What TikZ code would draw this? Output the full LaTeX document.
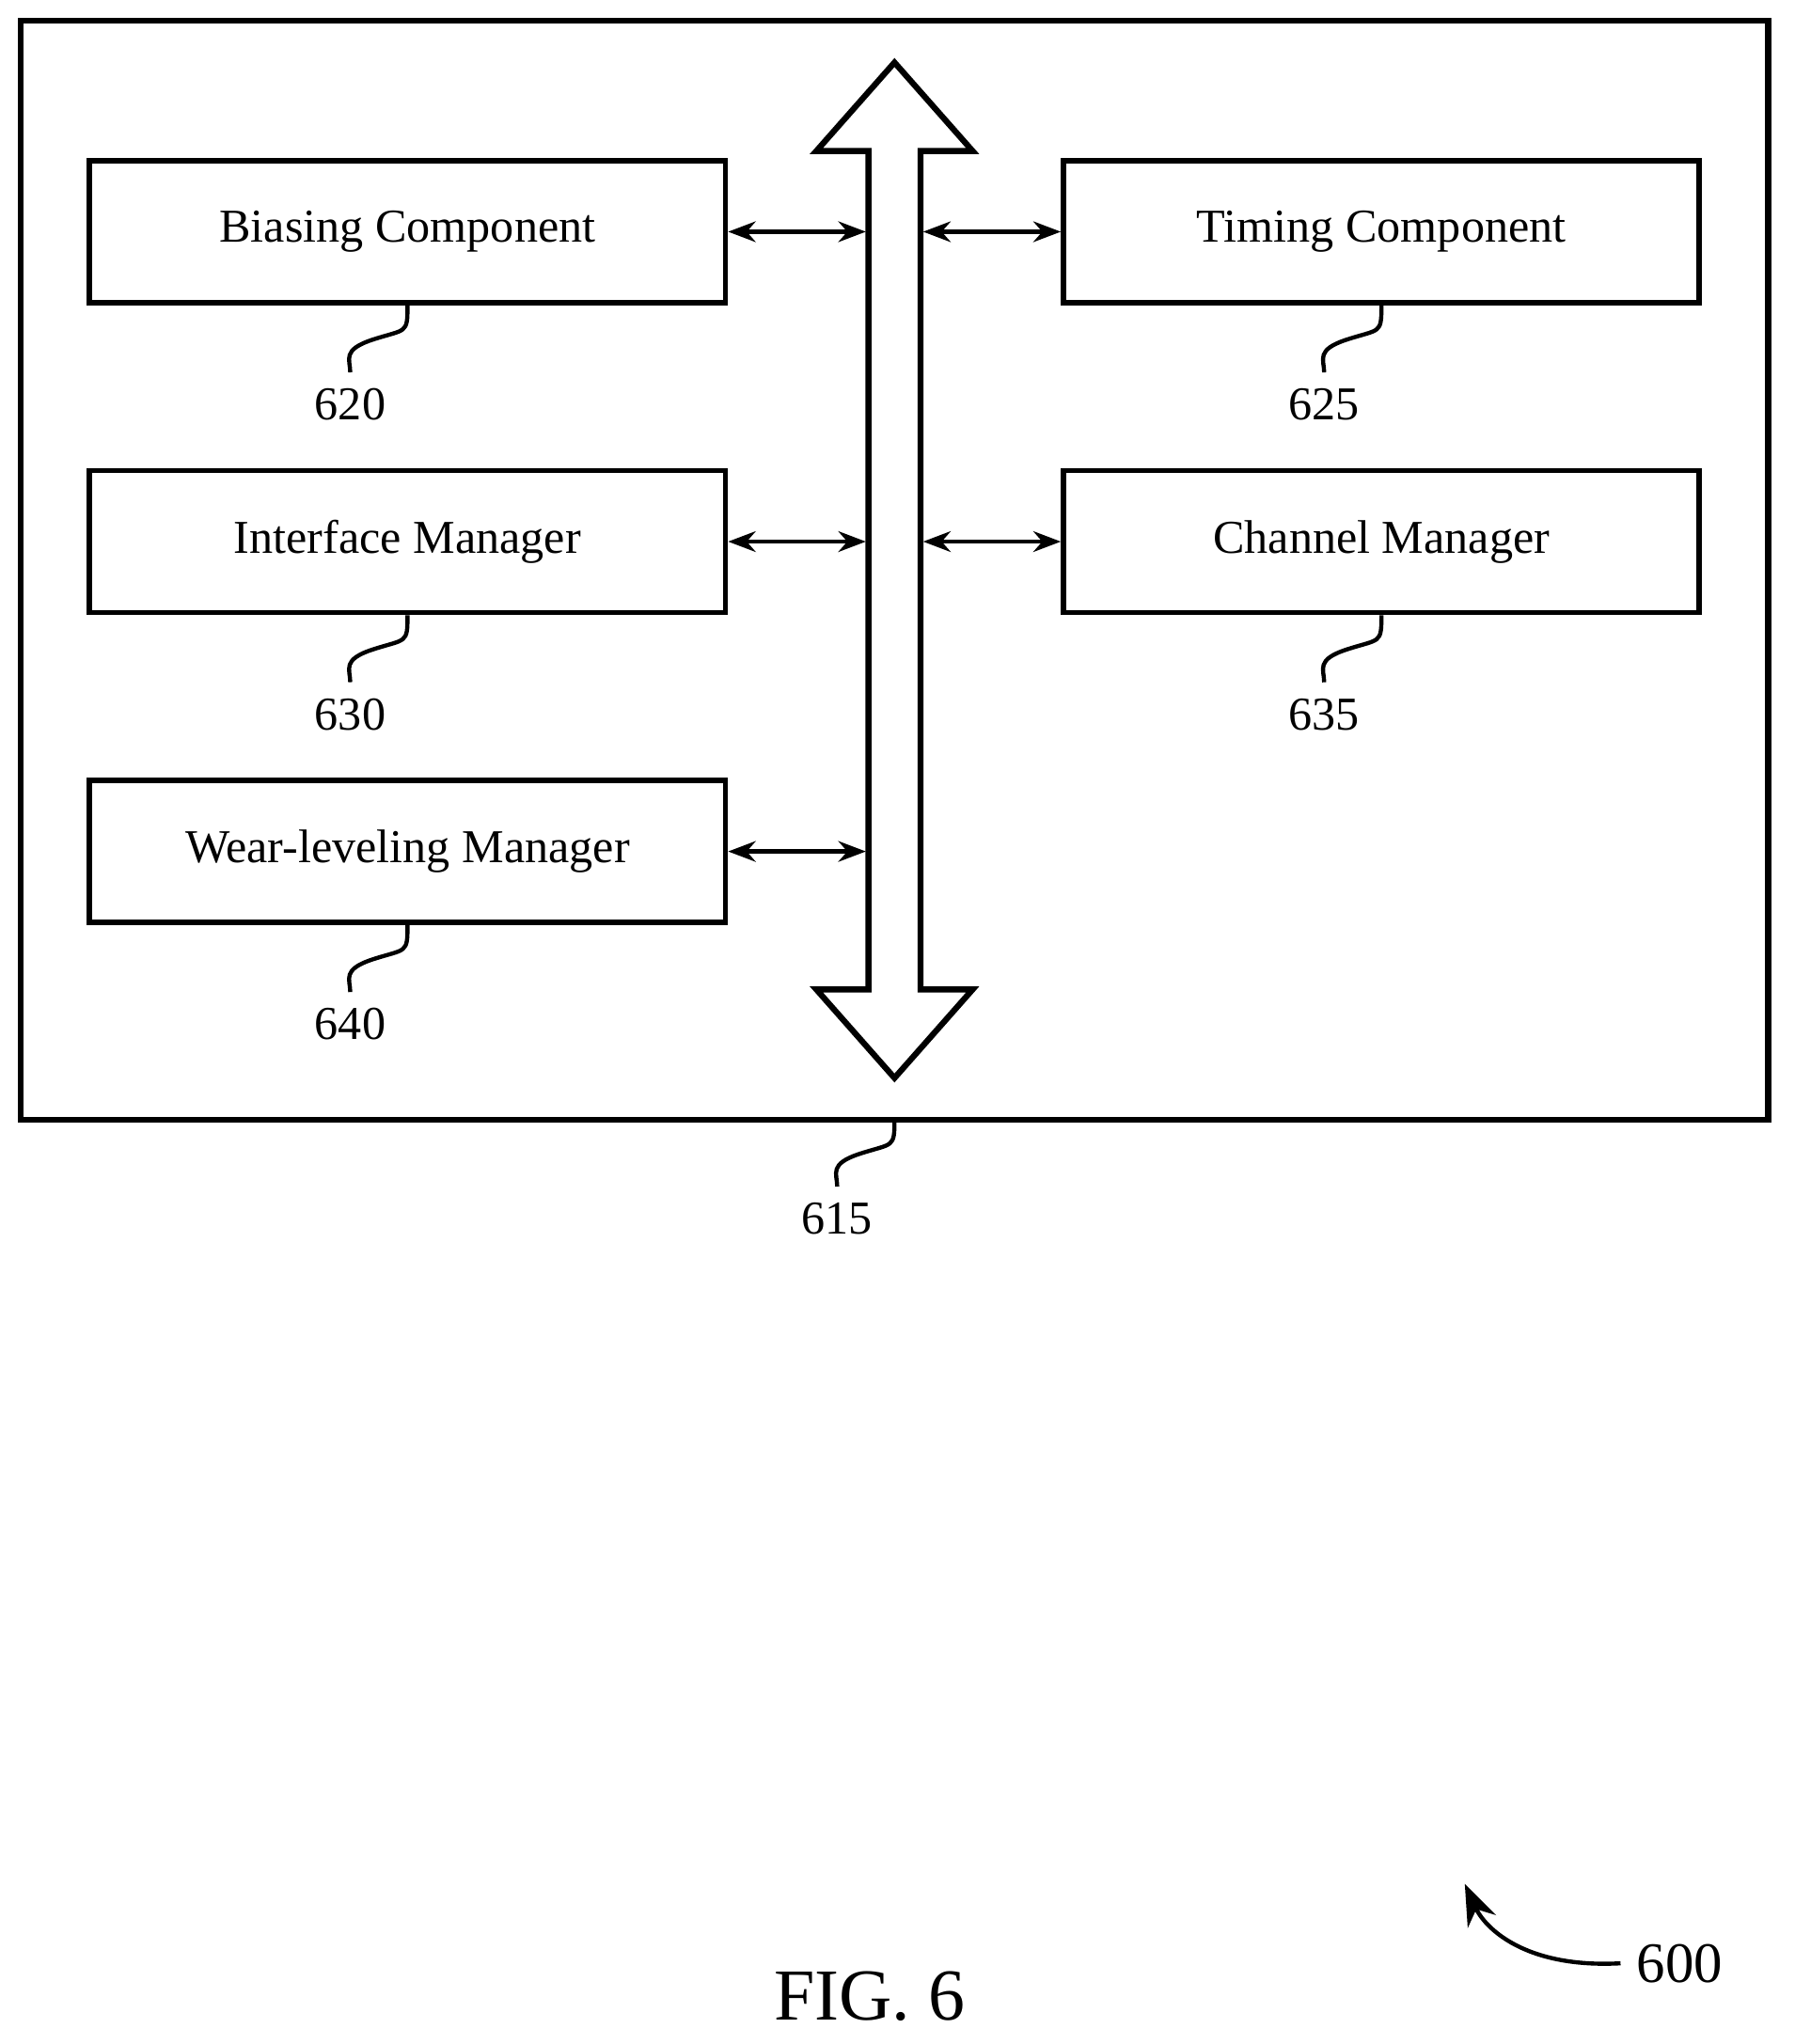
\documentclass[tikz,border=0pt]{standalone}
\usepackage{fontspec}
\setmainfont{Liberation Serif}
\usetikzlibrary{positioning, calc, arrows.meta}

\begin{document}
\begin{tikzpicture}[x=0.01cm, y=-0.01cm, font=\fontsize{10.3}{12}\selectfont,
  comp/.style={rectangle, draw, line width=1.2pt, minimum width=4.88cm, minimum height=1.09cm},
  link/.style={{Stealth[length=6pt]}-{Stealth[length=6pt]}, line width=0.9pt},
  lead/.style={line width=0.9pt}]
\useasboundingbox (0,0) rectangle (1378,1570);
\draw[line width=1.3pt] (16,16) rectangle (1358,860);

% bus
\draw[line width=1.3pt, fill=white] (687,48) -- (747,116) -- (707,116) -- (707,760) -- (747,760)
  -- (687,828) -- (627,760) -- (667,760) -- (667,116) -- (627,116) -- cycle;
\coordinate (busL1) at (665,178); \coordinate (busR1) at (709,178);
\coordinate (busL2) at (665,416); \coordinate (busR2) at (709,416);
\coordinate (busL3) at (665,654);

\node[comp] (bias) at (313,178) {Biasing Component};
\node[comp] (iface) at (313,416) {Interface Manager};
\node[comp] (wear) at (313,654) {Wear-leveling Manager};
\node[comp] (timing) at (1061,178) {Timing Component};
\node[comp] (chan) at (1061,416) {Channel Manager};

\draw[link] (bias) -- (busL1);
\draw[link] (iface) -- (busL2);
\draw[link] (wear) -- (busL3);
\draw[link] (busR1) -- (timing);
\draw[link] (busR2) -- (chan);

% reference labels
\foreach \blk/\num in {bias/620, iface/630, wear/640, timing/625, chan/635}{
  \node (l\num) at ($(\blk.south)+(-44,76)$) {\num};
  \draw[lead] (\blk.south) .. controls +(0,22) and +(25,-8) .. ($(\blk.south)+(-26,26)$)
    .. controls +(-25,8) and +(0,-10) .. (l\num.north);
}
\coordinate (boxS) at (687,860);
\node (l615) at (643,936) {615};
\draw[lead] (boxS) .. controls +(0,22) and +(25,-8) .. ($(boxS)+(-26,26)$)
  .. controls +(-25,8) and +(0,-10) .. (l615.north);

\node[font=\fontsize{12.5}{15}\selectfont] (l600) at (1290,1508) {600};
\coordinate (tip600) at (1125,1447);
\draw[lead, -{Stealth[length=9pt]}] (l600.west) .. controls (1170,1512) and (1140,1480) .. (tip600);
\node[font=\fontsize{16}{19}\selectfont] (fig) at (668,1533) {FIG. 6};
\end{tikzpicture}
\end{document}
